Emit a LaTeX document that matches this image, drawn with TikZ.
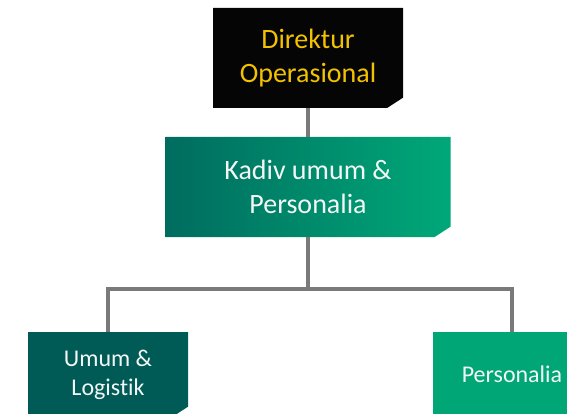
\documentclass[tikz,border=0pt]{standalone}
\usepackage{fontspec}
\setmainfont[Ligatures={NoCommon,NoContextual}]{Carlito}
\usetikzlibrary{shapes.misc}
\definecolor{dirblack}{HTML}{050505}
\definecolor{diryellow}{HTML}{F2C200}
\definecolor{kadivdark}{HTML}{006C5F}
\definecolor{kadivlight}{HTML}{00A878}
\definecolor{umumteal}{HTML}{005B57}
\definecolor{persgreen}{HTML}{00A676}
\definecolor{linkgrey}{HTML}{7A7A7A}
\definecolor{textwhite}{HTML}{F2F7F5}

\begin{document}
\begin{tikzpicture}[
    x=1pt, y=-1pt,
    orgbox/.style={chamfered rectangle, chamfered rectangle corners=south east, chamfered rectangle angle=57, chamfered rectangle xsep=11pt, inner sep=0pt, align=center, text=textwhite},
    bigtext/.style={font=\fontsize{28}{34}\selectfont},
    smalltext/.style={font=\fontsize{24}{29}\selectfont},
    link/.style={draw=linkgrey, line width=4pt},
]
\useasboundingbox (0,0) rectangle (567,414);
\clip (0,0) rectangle (567,414);

% ================= BOXES =================
\node[orgbox, bigtext, fill=dirblack, text=diryellow, minimum width=190pt, minimum height=100pt] (dir) at (308,58) {Direktur\\Operasional};
\node[orgbox, bigtext, left color=kadivdark, right color=kadivlight, minimum width=285pt, minimum height=100pt] (kadiv) at (308,187) {Kadiv umum \&\\Personalia};
\node[orgbox, smalltext, fill=umumteal, minimum width=160pt, minimum height=85pt] (umum) at (108,374.5) {Umum \&\\Logistik};
\node[orgbox, smalltext, fill=persgreen, minimum width=158pt, minimum height=85pt] (pers) at (512,374.5) {Personalia};

% ================= LINKS =================
\path (kadiv.south) ++(0,52) coordinate (cabang);
\draw[link] (dir.south) -- (kadiv.north);
\draw[link] (kadiv.south) -- (cabang);
\draw[link] (cabang) -| (umum.north);
\draw[link] (cabang) -| (pers.north);

\end{tikzpicture}
\end{document}
